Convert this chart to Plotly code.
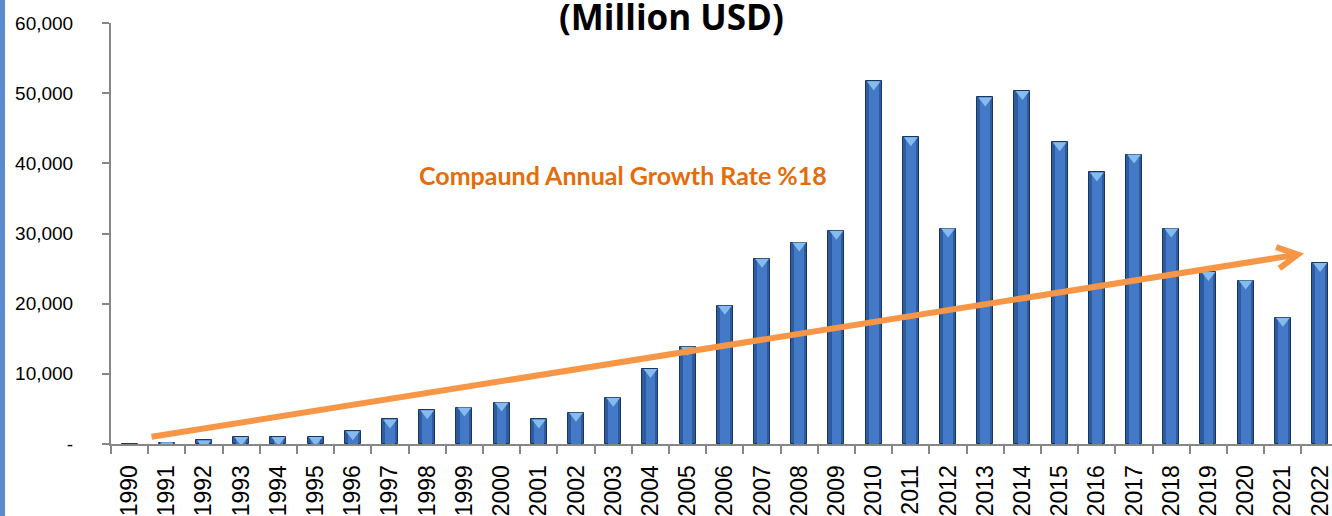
import plotly.graph_objects as go

years = [str(y) for y in range(1990, 2023)]
values = [0, 200, 500, 1000, 1000, 1000, 1800, 3500, 4800, 5200, 5900,
          3500, 4450, 6600, 10700, 13850, 19700, 26400, 28700, 30400,
          51700, 43700, 30700, 49400, 50300, 43000, 38700, 41250,
          30700, 24500, 23300, 18000, 25800]
y_ticks = [0, 10000, 20000, 30000, 40000, 50000, 60000]
y_tick_text = ["-", "10,000", "20,000", "30,000", "40,000", "50,000", "60,000"]
title_text = "(Million USD)"
cagr_text = "Compaund Annual Growth Rate %18"
trend_start = (0.59, 1030)
trend_end = (31.4, 27000)

Y_MAX = 60000
PLOT_H = 421
px_to_val = Y_MAX / PLOT_H

fig = go.Figure()
fig.add_trace(go.Bar(x=years, y=values, width=0.43,
                     marker=dict(color="#2C5C9E", line=dict(color="#1A3660", width=1)),
                     hoverinfo="x+y"))
fig.add_trace(go.Bar(x=years, y=values, width=0.26,
                     marker=dict(color="#4379C6", line=dict(width=0)),
                     hoverinfo="skip"))
fig.add_trace(go.Scatter(x=years, y=[v - 3 * px_to_val for v in values], mode="markers",
                         marker=dict(symbol="triangle-down", size=12, color="#86BBEE",
                                     line=dict(width=0)),
                         hoverinfo="skip", cliponaxis=True))

orange = "#F79646"
fig.add_shape(type="line", xref="x", yref="y",
              x0=trend_start[0], y0=trend_start[1], x1=trend_end[0], y1=trend_end[1],
              line=dict(color=orange, width=6))
fig.add_shape(type="path", xref="x", yref="y", xsizemode="pixel", ysizemode="pixel",
              xanchor=trend_end[0], yanchor=trend_end[1],
              path="M -21.7,7.5 L 0,0 L -18.4,-13.8",
              line=dict(color=orange, width=6))

# left frame border
fig.add_shape(type="line", xref="paper", yref="paper",
              x0=(2.5 - 111) / 1221, x1=(2.5 - 111) / 1221, y0=-0.3, y1=1.2,
              line=dict(color="#5B8BD0", width=5))

fig.add_annotation(text=title_text, xref="paper", yref="paper",
                   x=(671.5 - 111) / 1221, y=1 + (23 - 17) / PLOT_H,
                   xanchor="center", yanchor="middle", showarrow=False,
                   font=dict(family="Open Sans", size=35, color="black", weight="bold"))
fig.add_annotation(text=cagr_text, xref="paper", yref="paper",
                   x=(623.4 - 111) / 1221, y=(444 - 175) / PLOT_H,
                   xanchor="center", yanchor="middle", showarrow=False,
                   font=dict(family="Lato", size=25, color="#E46C0A", weight="bold"))

fig.update_layout(
    width=1332, height=516,
    margin=dict(l=111, r=0, t=23, b=72),
    paper_bgcolor="white", plot_bgcolor="white",
    barmode="overlay", showlegend=False, bargap=0,
    xaxis=dict(type="category", range=[-0.5, 32.32], showline=True,
               linecolor="#868686", linewidth=2, ticks="outside", ticklen=8,
               tickcolor="#868686", tickwidth=2, tickson="boundaries",
               tickangle=-90, showgrid=False, zeroline=False,
               ticklabelstandoff=10,
               tickfont=dict(family="Liberation Sans", size=23, color="black")),
    yaxis=dict(range=[0, Y_MAX], showline=True, linecolor="#868686", linewidth=2,
               ticks="outside", ticklen=7, tickcolor="#868686", tickwidth=2,
               tickvals=y_ticks, ticktext=y_tick_text, showgrid=False,
               zeroline=False, ticklabelstandoff=25,
               tickfont=dict(family="Liberation Sans", size=19, color="black")),
)

fig.write_html("out.html", config={"displayModeBar": False},
               post_script="document.body.style.margin='0';document.body.style.overflow='hidden';")
